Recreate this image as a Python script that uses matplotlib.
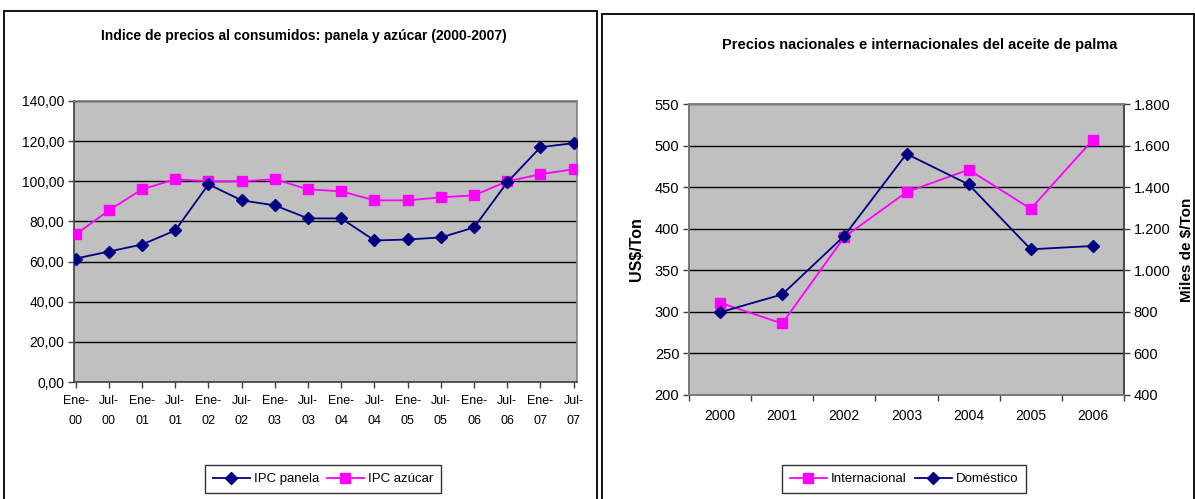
import matplotlib
matplotlib.use("Agg")
import matplotlib.pyplot as plt
from matplotlib.patches import Rectangle
from matplotlib.ticker import FuncFormatter, MultipleLocator

plt.rcParams['font.family'] = ['Liberation Sans', 'DejaVu Sans']

# ---- Data: left chart ----
periods = ["Ene-\n00", "Jul-\n00", "Ene-\n01", "Jul-\n01", "Ene-\n02", "Jul-\n02", "Ene-\n03", "Jul-\n03",
           "Ene-\n04", "Jul-\n04", "Ene-\n05", "Jul-\n05", "Ene-\n06", "Jul-\n06", "Ene-\n07", "Jul-\n07"]
ipc_panela = [61.5, 65.0, 68.5, 75.5, 98.5, 90.5, 88.0, 81.5, 81.5, 70.5, 71.0, 72.0, 77.0, 99.5, 117.0, 119.0]
ipc_azucar = [73.5, 85.5, 96.0, 101.0, 100.0, 100.0, 101.0, 96.0, 95.0, 90.5, 90.5, 92.0, 93.0, 100.0, 103.5, 106.0]

# ---- Data: right chart ----
years = ["2000", "2001", "2002", "2003", "2004", "2005", "2006"]
internacional = [311, 286, 390, 444, 471, 424, 507]          # US$/Ton (left axis)
domestico = [798, 884, 1166, 1560, 1413, 1101, 1117]         # Miles de $/Ton (right axis)

NAVY = "#000080"
MAGENTA = "#FF00FF"
GRAY = "#C0C0C0"

W, H = 1195, 499
fig = plt.figure(figsize=(W / 100, H / 100), dpi=100)

def fx(px):
    return px / W

def fy(py):
    return 1 - py / H

# chart boxes
fig.patches.append(Rectangle((fx(4), fy(505)), fx(593), (505 - 11) / H, transform=fig.transFigure,
                             fill=False, edgecolor="black", linewidth=1.3))
fig.patches.append(Rectangle((fx(602), fy(505)), fx(592), (505 - 14) / H, transform=fig.transFigure,
                             fill=False, edgecolor="black", linewidth=1.3))

# ---------------- Left chart ----------------
ax1 = fig.add_axes([fx(74), fy(382), fx(577 - 74), (382 - 101) / H])
ax1.set_facecolor(GRAY)
x1 = list(range(len(periods)))
ax1.plot(x1, ipc_panela, color=NAVY, lw=1.3, marker="D", ms=6.5, mfc=NAVY, mec=NAVY, label="IPC panela", zorder=4)
ax1.plot(x1, ipc_azucar, color=MAGENTA, lw=1.3, marker="s", ms=7, mfc=MAGENTA, mec=MAGENTA, label="IPC azúcar", zorder=3)
ax1.set_ylim(0, 140)
ax1.set_xlim(-0.05, 15.1)
ax1.yaxis.set_major_locator(MultipleLocator(20))
ax1.yaxis.set_major_formatter(FuncFormatter(lambda v, p: f"{v:.2f}".replace(".", ",")))
ax1.set_xticks(x1)
ax1.set_xticklabels(periods, fontsize=9, linespacing=2.0)
ax1.tick_params(axis="y", labelsize=10, direction="out", length=4, width=1, color="#404040", pad=3)
ax1.tick_params(axis="x", direction="out", length=4, width=1, color="#404040", pad=5)
ax1.grid(axis="y", color="black", lw=1)
ax1.set_axisbelow(True)
for s in ax1.spines.values():
    s.set_color("#808080")
    s.set_linewidth(1.2)
ax1.spines["left"].set_color("#404040")
ax1.spines["bottom"].set_color("#404040")
fig.text(fx(304), fy(36), "Indice de precios al consumidos: panela y azúcar (2000-2007)",
         ha="center", va="center", fontsize=10, fontweight="bold")
leg1 = fig.legend(handles=ax1.get_lines(), loc="center", bbox_to_anchor=(fx(323), fy(479)),
                  ncol=2, frameon=True, fancybox=False, edgecolor="black", fontsize=9.5,
                  handlelength=2.8, columnspacing=0.6, handletextpad=0.3, borderpad=0.6)
leg1.get_frame().set_linewidth(1.0)

# ---------------- Right chart ----------------
ax2 = fig.add_axes([fx(689), fy(395), fx(1124 - 689), (395 - 104) / H])
ax2.set_facecolor(GRAY)
x2 = list(range(len(years)))
ax3 = ax2.twinx()
l_int, = ax2.plot(x2, internacional, color=MAGENTA, lw=1.3, marker="s", ms=7, mfc=MAGENTA, mec=MAGENTA,
                  label="Internacional", zorder=3)
l_dom, = ax3.plot(x2, domestico, color=NAVY, lw=1.3, marker="D", ms=6.5, mfc=NAVY, mec=NAVY,
                  label="Doméstico", zorder=4)
ax2.set_ylim(200, 550)
ax3.set_ylim(400, 1800)
ax2.set_xlim(-0.5, 6.5)
ax2.yaxis.set_major_locator(MultipleLocator(50))
ax3.yaxis.set_major_locator(MultipleLocator(200))
ax3.yaxis.set_major_formatter(FuncFormatter(lambda v, p: f"{int(v):,}".replace(",", ".")))
ax2.set_xticks(x2)
ax2.set_xticklabels(years, fontsize=10)
ax2.set_xticks([i - 0.5 for i in range(len(years) + 1)], minor=True)
ax2.tick_params(axis="x", which="major", length=0, pad=10)
ax2.tick_params(axis="x", which="minor", direction="out", length=4, width=1, color="#404040")
ax2.tick_params(axis="y", labelsize=10.5, direction="out", length=4, width=1, color="#404040", pad=3)
ax3.tick_params(axis="y", labelsize=10.5, direction="out", length=4, width=1, color="#404040", pad=3)
ax2.grid(axis="y", color="black", lw=1)
ax2.set_axisbelow(True)
for a in (ax2, ax3):
    for s in a.spines.values():
        s.set_color("#808080")
        s.set_linewidth(1.2)
ax2.spines["left"].set_color("#404040")
ax2.spines["bottom"].set_color("#404040")
ax3.spines["right"].set_color("#404040")
ax2.set_ylabel("US$/Ton", fontsize=11.5, fontweight="bold", labelpad=8)
ax3.set_ylabel("Miles de $/Ton", fontsize=11, fontweight="bold", labelpad=7, rotation=90)
fig.text(fx(920), fy(45), "Precios nacionales e internacionales del aceite de palma",
         ha="center", va="center", fontsize=10.5, fontweight="bold")
leg2 = fig.legend(handles=[l_int, l_dom], loc="center", bbox_to_anchor=(fx(904), fy(479)),
                  ncol=2, frameon=True, fancybox=False, edgecolor="black", fontsize=9.5,
                  handlelength=2.8, columnspacing=0.6, handletextpad=0.3, borderpad=0.6)
leg2.get_frame().set_linewidth(1.0)

fig.savefig("out.png", dpi=100)
